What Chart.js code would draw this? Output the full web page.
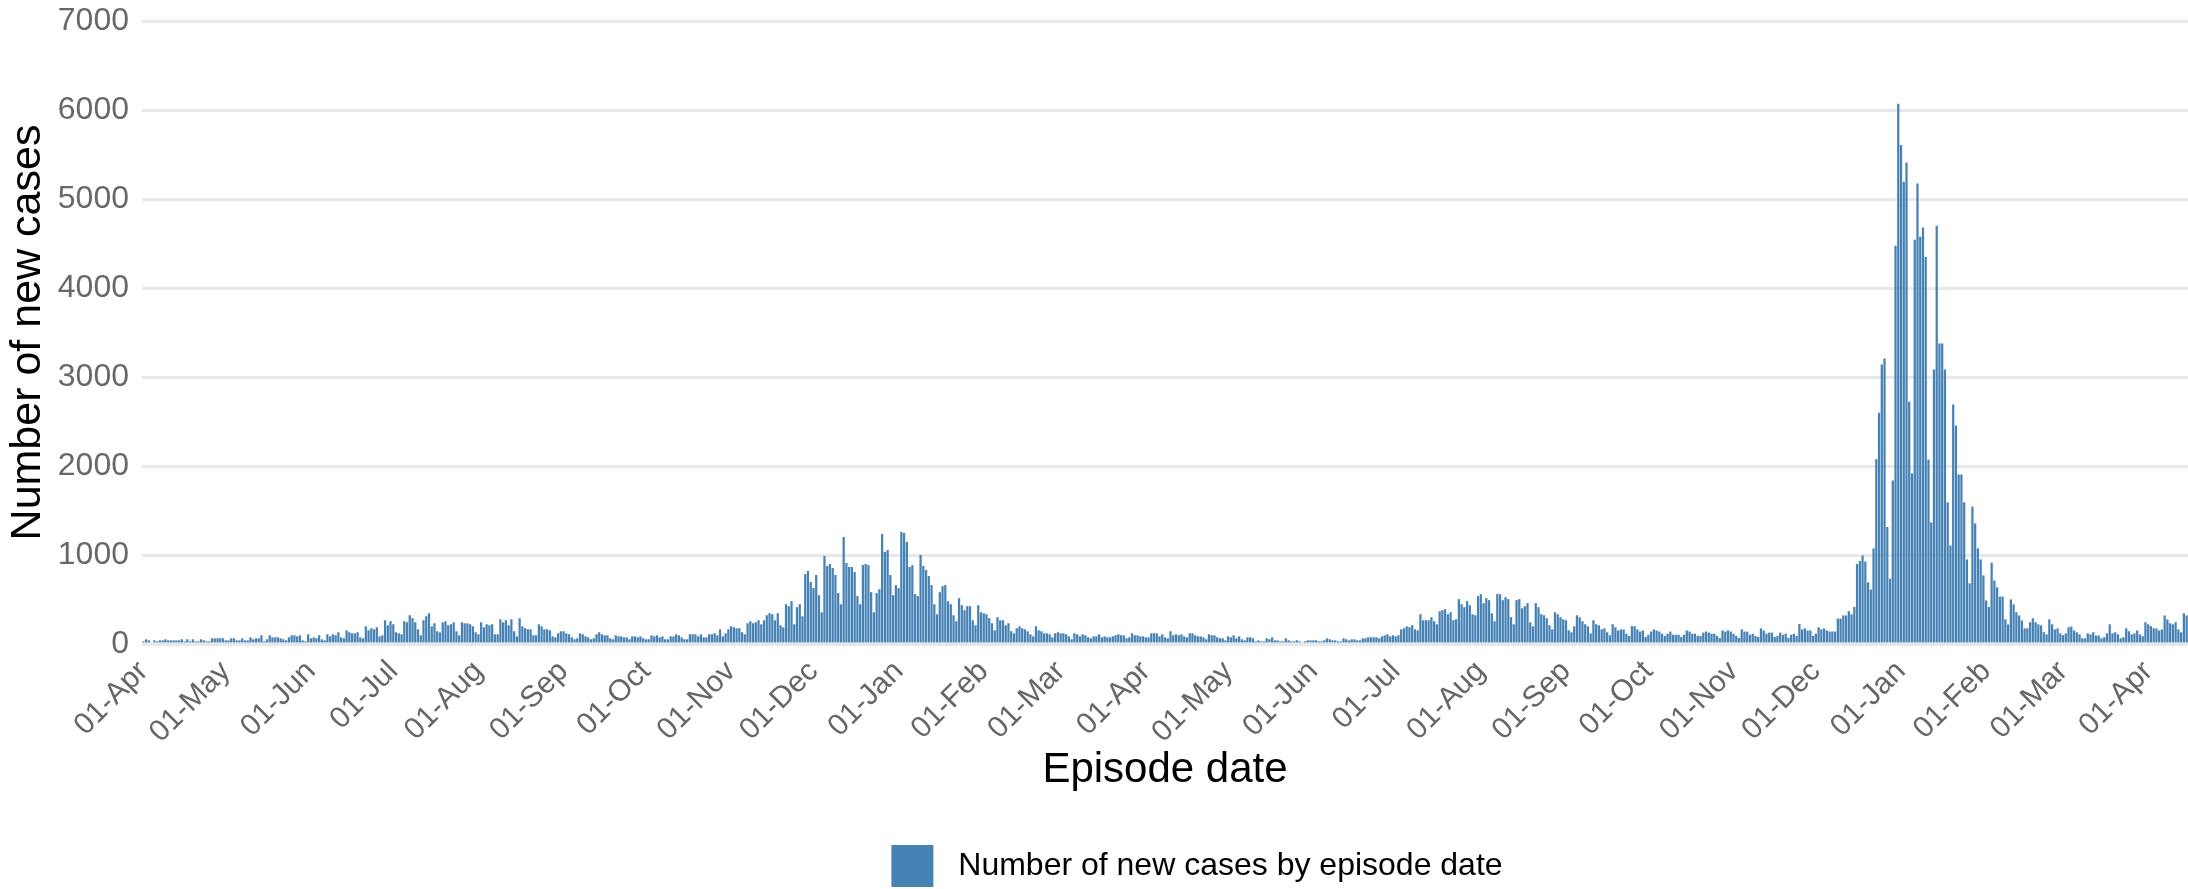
<!DOCTYPE html>
<html>
<head>
<meta charset="utf-8">
<script src="https://cdn.jsdelivr.net/npm/chart.js@4"></script>
<style>
  html, body { margin: 0; padding: 0; background: #ffffff; overflow: hidden; }
  #wrap { width: 2188px; height: 897px; }
</style>
</head>
<body>
<div id="wrap"><canvas id="c" width="2188" height="897"></canvas></div>
<script>
// ---- DATA ----
const START_DATE = '2020-04-01';
const MONTH_LABELS = ['Jan','Feb','Mar','Apr','May','Jun','Jul','Aug','Sep','Oct','Nov','Dec'];
const SERIES_LABEL = 'Number of new cases by episode date';
const X_TITLE = 'Episode date';
const Y_TITLE = 'Number of new cases';
const Y_TICKS = [0, 1000, 2000, 3000, 4000, 5000, 6000, 7000];

// 2020-04-01 .. 2020-09-25
const casesApr2020toSep2020 = [
  30,53,41,19,41,30,41,41,53,41,
  41,41,41,41,53,30,53,30,53,30,
  30,53,41,30,30,64,64,64,64,64,
  41,41,64,64,41,41,64,41,41,75,
  53,64,64,98,30,53,98,75,75,75,
  64,53,41,75,98,98,86,98,41,30,
  109,64,75,64,98,53,41,109,86,109,
  98,132,75,64,154,132,120,120,132,75,
  64,199,154,177,165,188,86,98,267,211,
  256,222,132,120,109,256,244,323,290,244,
  165,98,267,312,346,199,233,143,132,244,
  256,211,222,244,143,98,244,233,233,222,
  199,132,109,244,188,222,211,222,109,109,
  278,244,267,211,278,143,86,290,199,177,
  165,165,98,98,222,199,165,165,154,86,
  75,120,143,143,120,109,75,53,64,120,
  109,86,75,53,64,109,132,109,98,98,
  64,53,98,86,86,75,75,53
];

// 2020-09-26 .. 2021-03-22
const casesSep2020toMar2021 = [
  86,86,75,86,64,53,53,98,86,98,
  75,86,53,53,86,86,109,98,75,53,
  53,109,109,109,86,109,75,75,109,109,
  120,98,165,86,120,165,199,188,177,177,
  132,109,233,256,233,244,267,222,267,323,
  346,335,267,346,211,188,447,425,481,222,
  414,447,312,786,820,696,628,775,549,357,
  989,876,899,854,775,572,447,1203,910,865,
  865,808,538,447,887,899,887,583,357,572,
  617,1237,1034,1057,775,549,662,628,1260,1248,
  1147,865,887,560,538,1000,876,831,763,662,
  447,335,583,650,662,481,447,323,256,515,
  436,380,425,425,267,211,436,357,346,335,
  290,233,154,301,267,267,211,233,143,120,
  177,199,177,165,143,109,86,199,154,143,
  120,120,109,75,120,132,120,120,109,86,
  53,120,109,86,109,98,75,64,86,86,
  109,75,86,75,75,86,98,109
];

// 2021-03-23 .. 2021-09-19
const casesMar2021toSep2021 = [
  98,98,64,75,120,98,98,86,86,75,
  75,120,120,120,86,109,75,64,143,98,
  109,98,109,86,75,120,120,98,86,86,
  75,53,109,98,98,75,64,64,41,86,
  75,98,64,86,53,41,75,75,64,30,
  41,30,30,64,53,75,41,41,30,30,
  64,41,30,30,41,30,19,30,41,41,
  41,41,30,30,41,64,53,41,41,30,
  30,64,53,41,53,53,41,41,64,64,
  75,75,75,75,64,86,98,109,86,98,
  86,98,165,177,199,188,211,165,154,335,
  267,267,267,301,256,222,368,380,391,335,
  357,267,278,504,447,414,481,436,335,323,
  538,560,459,515,493,346,256,560,560,493,
  526,504,301,222,493,504,402,425,459,244,
  199,459,414,335,323,290,211,165,357,335,
  301,278,267,154,132,199,323,301,256,222,
  199,120,267,222,211,165,177,132,98,222,
  188
];

// 2021-09-20 .. 2021-12-16
const casesSep2021toDec2021 = [
  152,164,164,116,92,200,200,164,
  140,152,80,104,140,164,152,140,116,92,
  116,140,104,104,104,80,104,152,140,116,
  116,92,92,128,140,128,116,116,92,68,
  152,140,152,140,116,92,68,164,140,140,
  104,116,92,80,176,152,116,128,128,80,
  92,128,104,116,68,104,116,92,225,164,
  176,152,152,92,116,188,164,176,152,140,
  140,140,285,285,321,321,369,333,417,898
];

// 2021-12-17 .. 2022-04-15
const casesDec2021toApr2022 = [
  934,995,926,694,613,1075,2077,2598,3140,3208,
  1315,734,1837,4475,6071,5606,5193,5409,2723,1917,
  4543,5173,4575,4680,4351,2073,1367,3084,4700,3376,
  3376,3084,1592,1107,2691,2454,1905,1905,1592,950,
  682,1544,1355,1075,950,770,489,417,914,714,
  638,533,533,277,221,501,445,357,321,265,
  176,176,245,289,245,221,209,132,108,277,
  221,164,176,120,100,120,188,196,152,132,
  108,64,64,120,108,132,96,96,64,76,
  120,221,120,132,108,64,76,176,144,108,
  120,152,108,88,245,221,200,176,176,152,
  164,321,277,233,221,245,164,132,345,321
];

// ---- BUILD ----
const values = [].concat(
  casesApr2020toSep2020,
  casesSep2020toMar2021,
  casesMar2021toSep2021,
  casesSep2021toDec2021,
  casesDec2021toApr2022
);

const startMs = Date.parse(START_DATE + 'T00:00:00Z');
const dates = values.map((_, i) => new Date(startMs + i * 86400000));
const categories = dates.map(d => {
  const dd = String(d.getUTCDate()).padStart(2, '0');
  return dd + '-' + MONTH_LABELS[d.getUTCMonth()];
});

Chart.defaults.font.family = '"Liberation Sans", Arial, Helvetica, sans-serif';

// nudges the bottom legend box sideways (layout only)
const legendShift = {
  id: 'legendShift',
  afterLayout(chart) {
    const lg = chart.legend;
    if (lg) { lg.left += 32; lg.right += 32; }
  }
};

new Chart(document.getElementById('c'), {
  type: 'bar',
  data: {
    labels: categories,
    datasets: [{
      label: SERIES_LABEL,
      data: values,
      backgroundColor: '#4682B4',
      borderWidth: 0,
      barPercentage: 0.82,
      categoryPercentage: 1.0
    }]
  },
  plugins: [legendShift],
  options: {
    responsive: false,
    animation: false,
    devicePixelRatio: 1,
    layout: { padding: { top: 21, left: 0, right: 0, bottom: 0 } },
    plugins: {
      legend: {
        position: 'bottom',
        fullSize: false,
        labels: {
          boxWidth: 42,
          boxHeight: 42,
          padding: 45,
          color: '#000000',
          font: { size: 32 },
          generateLabels: function (chart) {
            const items = Chart.defaults.plugins.legend.labels.generateLabels(chart);
            items.forEach(it => { it.text = '\u00a0' + it.text; });
            return items;
          }
        }
      },
      tooltip: { enabled: false }
    },
    scales: {
      x: {
        type: 'category',
        offset: true,
        grid: { display: false, drawTicks: false },
        border: { display: false },
        ticks: {
          autoSkip: false,
          minRotation: 45,
          maxRotation: 45,
          padding: 10,
          color: '#666666',
          font: { size: 30 },
          callback: function (value, index) {
            const d = dates[index];
            return d.getUTCDate() === 1 ? categories[index] : null;
          }
        },
        title: {
          display: true,
          text: X_TITLE,
          color: '#000000',
          font: { size: 42 },
          padding: { top: 4, bottom: 4 }
        },
        afterFit: function (s) { s.height = 156; }
      },
      y: {
        min: Y_TICKS[0],
        max: Y_TICKS[Y_TICKS.length - 1],
        afterBuildTicks: function (s) { s.ticks = Y_TICKS.map(v => ({ value: v })); },
        ticks: {
          padding: 13,
          color: '#686868',
          font: { size: 32 },
          callback: function (value) { return String(value); }
        },
        grid: { color: '#e8e8e8', lineWidth: 3, drawTicks: false },
        border: { display: false },
        title: {
          display: true,
          text: Y_TITLE,
          color: '#000000',
          font: { size: 43 },
          padding: { top: 2, bottom: 0 }
        },
        afterFit: function (s) {
          s.width = 142;
          s.paddingTop = 0;
          s.paddingBottom = 0;
        }
      }
    }
  }
});
</script>
</body>
</html>
